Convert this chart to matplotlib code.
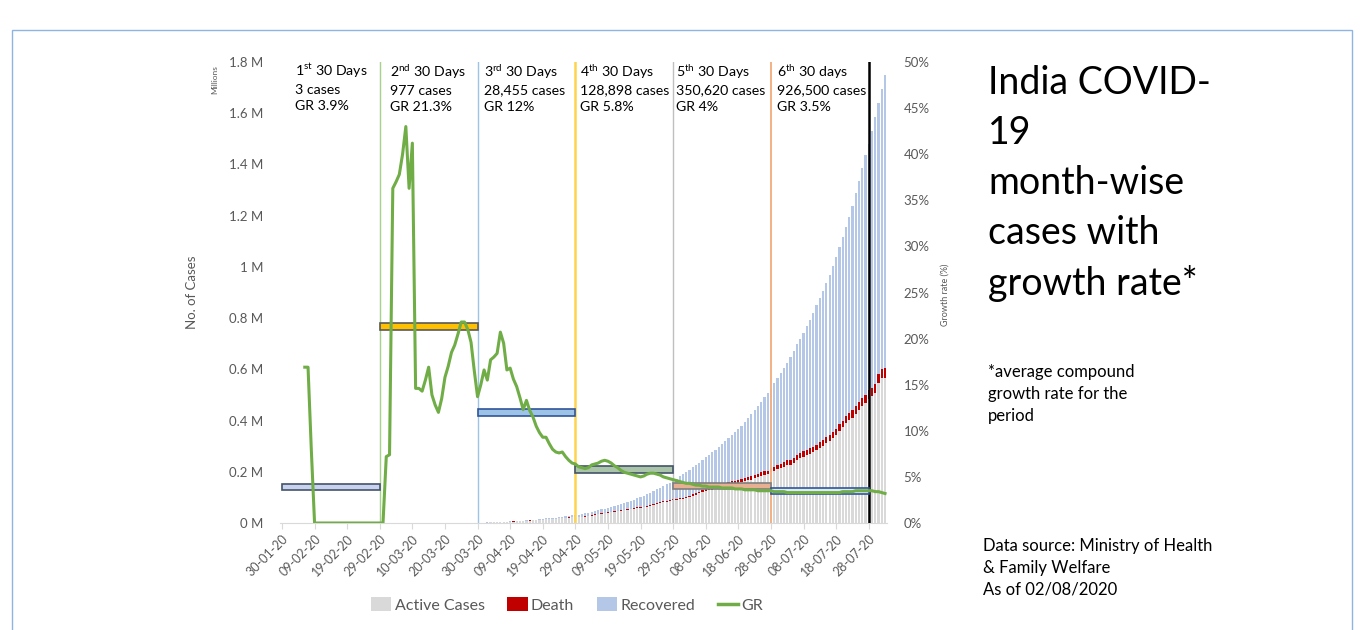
import numpy as np
import matplotlib.pyplot as plt
from matplotlib.patches import Patch, Rectangle
from matplotlib.lines import Line2D

plt.rcParams['font.family'] = ['Lato', 'DejaVu Sans']
plt.rcParams['mathtext.fontset'] = 'custom'
plt.rcParams['mathtext.rm'] = 'Lato'

# daily figures 30-01-20 .. 02-08-20 (MoHFW, morning update)
total_jan = [1, 1]
total_feb = [1, 1, 2] + [3] * 26
total_mar = [3, 3, 5, 6, 28, 30, 31, 34, 39, 48,
             63, 71, 81, 91, 102, 112, 126, 146, 171, 198,
             256, 334, 403, 497, 571, 657, 730, 883, 1019, 1139,
             1326]
total_apr = [1635, 2059, 2545, 3105, 3684, 4293, 4777, 5350, 5915, 6728,
             7599, 8446, 9205, 10454, 11487, 12371, 13432, 14425, 15722, 17615,
             18539, 20080, 21370, 23077, 24530, 26283, 27890, 29451, 31324, 33062]
total_may = [34863, 37257, 39699, 42505, 46437, 49400, 52987, 56351, 59695, 62808,
             67161, 70768, 74292, 78055, 81997, 85784, 90648, 95698, 100328, 106475,
             112028, 118226, 124794, 131423, 138536, 144950, 150793, 157745, 165386, 173491,
             181827]
total_jun = [190609, 198370, 207191, 216824, 226713, 236184, 246622, 257486, 265928, 276146,
             286605, 297535, 308993, 320922, 332424, 343091, 354065, 366946, 380532, 395048,
             410451, 425282, 440215, 456183, 473105, 490401, 508953, 528859, 548318, 566840]
total_jul = [585481, 604641, 625544, 648315, 673165, 697413, 719664, 742417, 767296, 793802,
             820916, 849553, 878254, 906752, 936181, 968876, 1003832, 1038716, 1077781, 1118043,
             1155191, 1192915, 1238635, 1288108, 1337024, 1385635, 1435616, 1480073, 1531669, 1583792,
             1638870]
total_aug = [1695988, 1750723]

active_jan = [1, 1]
active_feb = [1, 1, 2] + [3] * 16 + [0] * 10
active_mar = [0, 0, 2, 3, 25, 27, 28, 31, 36, 45,
              60, 67, 72, 79, 88, 97, 110, 128, 150, 171,
              228, 303, 359, 445, 512, 593, 647, 784, 910, 1010,
              1164]
active_apr = [1450, 1823, 2256, 2788, 3260, 3851, 4267, 4643, 5095, 5709,
              6565, 7189, 7751, 8900, 9756, 10197, 10824, 11616, 12974, 14255,
              14759, 15859, 16689, 17610, 18668, 19868, 20835, 21632, 22629, 23651]
active_may = [24162, 25007, 26535, 28070, 32138, 33514, 35902, 37916, 39834, 41472,
              44029, 46008, 47480, 49219, 51401, 53035, 56316, 58802, 60490, 61149,
              63624, 66330, 69597, 73560, 77103, 80722, 83004, 86110, 89987, 89995,
              91819]
active_jun = [93322, 97581, 101497, 106737, 110960, 115942, 120406, 125381, 129215, 129917,
              133632, 137448, 141842, 145779, 149348, 153106, 153178, 155227, 160384, 163248,
              168269, 169451, 174387, 178014, 183022, 186514, 189463, 197387, 203051, 210120]
active_jul = [215125, 220114, 226947, 227439, 235433, 244814, 253287, 259557, 264944, 269789,
              276882, 283407, 292258, 301609, 311565, 319840, 331146, 342473, 358692, 373379,
              390459, 402529, 411133, 426167, 440135, 456071, 467882, 485114, 495499, 509447,
              545318]
active_aug = [565103, 567730]

death_jan = [0, 0]
death_feb = [0] * 29
death_mar = [0] * 12 + [1, 2, 2, 2, 3, 3, 4, 4, 5, 7,
                        9, 10, 11, 13, 17, 20, 24, 27, 32]
death_apr = [38, 50, 58, 75, 83, 109, 118, 149, 166, 206,
             239, 273, 308, 339, 377, 392, 420, 452, 488, 521,
             559, 603, 652, 681, 718, 779, 826, 886, 937, 1007]
death_may = [1075, 1152, 1218, 1301, 1373, 1568, 1694, 1783, 1886, 1981,
             2109, 2206, 2293, 2415, 2549, 2649, 2752, 2872, 3029, 3163,
             3303, 3435, 3583, 3720, 3867, 4021, 4167, 4337, 4531, 4706,
             4971]
death_jun = [5164, 5394, 5598, 5815, 6075, 6348, 6642, 6929, 7135, 7466,
             7745, 8102, 8498, 8884, 9195, 9520, 9900, 11903, 12237, 12573,
             12948, 13254, 13699, 14011, 14476, 14894, 15301, 15685, 16095, 16475]
death_jul = [16893, 17400, 17834, 18213, 18655, 19268, 19693, 20160, 20642, 21129,
             21604, 22123, 22674, 23174, 23727, 24309, 24915, 25602, 26273, 26816,
             27497, 28084, 28732, 29861, 30601, 31358, 32063, 32771, 33425, 34193,
             35747]
death_aug = [36511, 37364]

# growth rate (%), one value per day
nan = np.nan
growth_rate = [nan, nan, nan, nan, nan, nan, nan, 16.9, 16.9, 8.0,
               0, 0, 0, 0, 0, 0, 0, 0, 0, 0,
               0, 0, 0, 0, 0, 0, 0, 0, 0, 0,
               0, 0, 7.2, 7.4, 36.3, 37.0, 37.8, 40.0, 43.0, 36.3,
               41.2, 14.6, 14.6, 14.3, 15.5, 16.9, 13.9, 12.8, 12.0, 13.5,
               15.8, 17.0, 18.5, 19.3, 20.5, 21.8, 21.8, 21.0, 19.6, 16.5,
               13.7, 15.0, 16.6, 15.5, 17.7, 18.0, 18.4, 20.7, 19.5, 16.6,
               16.8, 15.6, 14.8, 13.6, 12.3, 13.3, 12.2, 11.5, 10.5, 9.8,
               9.3, 9.3, 8.6, 8.0, 7.7, 7.6, 7.7, 7.2, 6.8, 6.5,
               6.4, 6.1, 6.0, 5.9, 6.0, 6.3, 6.4, 6.5, 6.7, 6.8,
               6.7, 6.5, 6.2, 6.0, 5.7, 5.5, 5.4, 5.3, 5.2, 5.1,
               5.0, 5.1, 5.3, 5.4, 5.4, 5.3, 5.2, 5.0, 4.9, 4.8,
               4.7, 4.6, 4.5, 4.4, 4.3, 4.3, 4.2, 4.1, 4.1, 4.0,
               4.0, 3.9, 3.9, 3.9, 3.9, 3.8, 3.8, 3.8, 3.8, 3.7,
               3.7, 3.7, 3.6, 3.6, 3.6, 3.6, 3.5, 3.5, 3.5, 3.5,
               3.5, 3.4, 3.4, 3.4, 3.4, 3.3, 3.3, 3.3, 3.3, 3.3,
               3.3, 3.3, 3.3, 3.3, 3.3, 3.3, 3.3, 3.3, 3.3, 3.3,
               3.3, 3.3, 3.4, 3.4, 3.4, 3.4, 3.5, 3.5, 3.5, 3.5,
               3.5, 3.5, 3.4, 3.4, 3.3, 3.2]

tick_labels = ['30-01-20', '09-02-20', '19-02-20', '29-02-20', '10-03-20', '20-03-20',
               '30-03-20', '09-04-20', '19-04-20', '29-04-20', '09-05-20', '19-05-20',
               '29-05-20', '08-06-20', '18-06-20', '28-06-20', '08-07-20', '18-07-20',
               '28-07-20']

# 30-day periods
period_start = [0, 30, 60, 90, 120, 150]
period_gr = [3.9, 21.3, 12, 5.8, 4, 3.5]
period_title = [r'1$^{\mathregular{st}}$ 30 Days', r'2$^{\mathregular{nd}}$ 30 Days',
                r'3$^{\mathregular{rd}}$ 30 Days', r'4$^{\mathregular{th}}$ 30 Days',
                r'5$^{\mathregular{th}}$ 30 Days', r'6$^{\mathregular{th}}$ 30 days']
period_cases = ['3 cases', '977 cases', '28,455 cases', '128,898 cases',
                '350,620 cases', '926,500 cases']
period_gr_text = ['GR 3.9%', 'GR 21.3%', 'GR 12%', 'GR 5.8%', 'GR 4%', 'GR 3.5%']
boundaries = [30, 60, 90, 120, 150, 180]

boundary_colors = ['#a9d18e', '#9dc3e6', '#ffd34d', '#bfbfbf', '#f4b183', '#000000']
boundary_widths = [1.0, 1.0, 1.8, 1.0, 1.4, 1.8]
bar_fill = ['#c9d3ef', '#ffc000', '#9dc3e6', '#a9c4a9', '#e8b092', '#deebf7']
bar_edge = ['#44546a', '#595959', '#2f5597', '#44546a', '#7f7f7f', '#2f5597']
text_offset = [13, 10, 6, 5, 3, 6]   # px right of the period start

total = np.array(total_jan + total_feb + total_mar + total_apr + total_may
                 + total_jun + total_jul + total_aug) / 1e6
active = np.array(active_jan + active_feb + active_mar + active_apr + active_may
                  + active_jun + active_jul + active_aug) / 1e6
death = np.array(death_jan + death_feb + death_mar + death_apr + death_may
                 + death_jun + death_jul + death_aug) / 1e6
recovered = total - active - death
x = np.arange(len(total))

grey = '#595959'
fig = plt.figure(figsize=(13.64, 6.30), dpi=100)
ax = fig.add_axes([280 / 1364, 1 - 523 / 630, 607 / 1364, 461 / 630])

ax.bar(x, active, width=0.68, color='#d9d9d9')
ax.bar(x, death, width=0.68, bottom=active, color='#c00000')
ax.bar(x, recovered, width=0.68, bottom=active + death, color='#b4c7e7')

ax.set_xlim(-0.6, len(x) - 0.4)
ax.set_ylim(0, 1.8)
ax.set_yticks(np.arange(0, 1.81, 0.2))
ax.set_yticklabels(['%g M' % v for v in np.round(np.arange(0, 1.81, 0.2), 1)])
ax.set_xticks(np.arange(0, 181, 10))
ax.set_xticklabels(tick_labels, rotation=45, ha='right', rotation_mode='anchor')
for s in ['top', 'left', 'right']:
    ax.spines[s].set_visible(False)
ax.spines['bottom'].set_color('#d9d9d9')
ax.tick_params(axis='y', length=0, pad=12, labelsize=9.5, labelcolor=grey)
ax.tick_params(axis='x', length=4, color='#d9d9d9', pad=3, labelsize=9, labelcolor=grey)
ax.set_ylabel('No. of Cases', color=grey, fontsize=9.5, labelpad=22)
fig.text(215 / 1364, 1 - 80 / 630, 'Millions', rotation=90, fontsize=6, color=grey,
         ha='center', va='center')

ax2 = ax.twinx()
ax2.set_ylim(0, 50)
ax2.set_yticks(range(0, 51, 5))
ax2.set_yticklabels(['%d%%' % v for v in range(0, 51, 5)])
for s in ax2.spines.values():
    s.set_visible(False)
ax2.tick_params(axis='y', length=0, pad=12, labelsize=9.5, labelcolor=grey)
fig.text(945 / 1364, 1 - 295 / 630, 'Growth rate (%)', rotation=90, fontsize=6.5,
         color=grey, ha='center', va='center')

for b, c, w in zip(boundaries, boundary_colors, boundary_widths):
    ax2.axvline(b, color=c, lw=w, zorder=3)

ax2.barh(period_gr, 30, left=period_start, height=0.7, color=bar_fill,
         edgecolor=bar_edge, linewidth=1.2, zorder=4)
ax2.plot(x, growth_rate, color='#70ad47', lw=2.2, zorder=5)

for s, t, c, g, off in zip(period_start, period_title, period_cases, period_gr_text, text_offset):
    ax2.annotate(t + '\n' + c + '\n' + g, xy=(s, 1), xycoords=('data', 'axes fraction'),
                 xytext=(off * 0.72, 0), textcoords='offset points', ha='left', va='top',
                 fontsize=10.2, linespacing=1.4, color='black', zorder=6)

fig.text(988 / 1364, 1 - 65 / 630, 'India COVID-\n19\nmonth-wise\ncases with\ngrowth rate*',
         fontsize=27, va='top', ha='left', linespacing=1.48)
fig.text(988 / 1364, 1 - 364 / 630, '*average compound\ngrowth rate for the\nperiod',
         fontsize=12, va='top', ha='left', linespacing=1.45)
fig.text(983 / 1364, 1 - 538 / 630,
         'Data source: Ministry of Health\n& Family Welfare\nAs of 02/08/2020',
         fontsize=12, va='top', ha='left', linespacing=1.45)

handles = [Patch(facecolor='#d9d9d9'), Patch(facecolor='#c00000'),
           Patch(facecolor='#b4c7e7'), Line2D([], [], color='#70ad47', lw=2.5)]
fig.legend(handles, ['Active Cases', 'Death', 'Recovered', 'GR'], loc='center',
           bbox_to_anchor=(567 / 1364, 1 - 605 / 630), ncol=4, frameon=False,
           handlelength=1.3, handleheight=0.9, handletextpad=0.2, columnspacing=1.4,
           fontsize=11.5, labelcolor=grey)

fig.patches.append(Rectangle((12 / 1364, -0.05), 1340 / 1364, 1.05 - 30 / 630,
                             transform=fig.transFigure, fill=False,
                             edgecolor='#8eb4e3', lw=1))

fig.savefig('out.png', dpi=100)
